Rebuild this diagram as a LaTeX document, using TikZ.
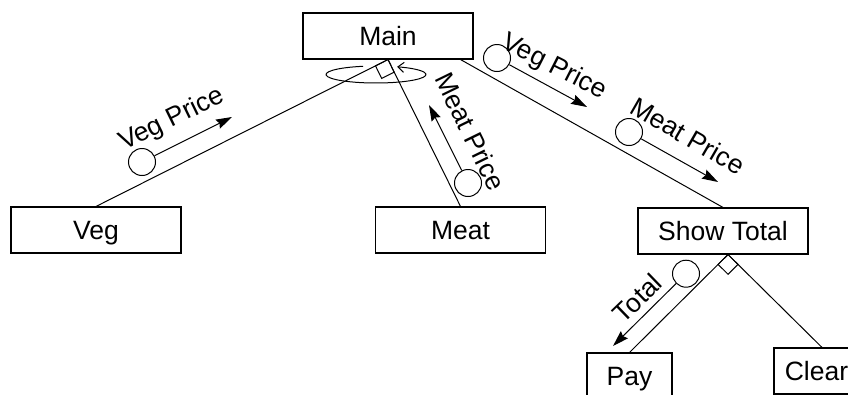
\documentclass[tikz,border=0pt]{standalone}
\usepackage{fontspec}
\setmainfont{Liberation Sans}
\usetikzlibrary{arrows.meta,calc}
\begin{document}
\begin{tikzpicture}[x=1pt,y=-1pt,
  every node/.style={font=\fontsize{26.5pt}{31pt}\selectfont},
  box/.style={draw, line width=1.1pt, minimum width=170pt, minimum height=46pt, inner sep=0pt, text height=19pt, text depth=0pt},
  smallbox/.style={box, minimum width=85pt},
  link/.style={line width=1pt},
  couple/.style={draw, circle, line width=1pt, minimum size=27pt, inner sep=0pt, fill=white},
  flow/.style={line width=1pt, -{Stealth[length=16pt,width=10pt,inset=2pt]}},
  lbl/.style={anchor=base, inner sep=0pt},
  diam/.style={line width=1pt},
  loop/.style={line width=1pt, -{Straight Barb[length=6pt,width=10pt]}}
]
\useasboundingbox (0,0) rectangle (848,394);
\clip (0,0) rectangle (848,394);

% modules
\node[box] (main) at (388,36) {Main};
\node[box] (veg) at (96,230) {Veg};
\node[box] (meat) at (460.5,230) {Meat};
\node[box] (show) at (723,231) {Show Total};
\node[smallbox] (pay) at (629.5,376) {Pay};
\node[smallbox] (clear) at (816.5,371) {Clear};

% attachment points
\coordinate (mainR) at ($(main.south east)+(-13,0)$);
\coordinate (showB) at ($(show.south)+(5,0)$);
\coordinate (clearT) at ($(clear.north)+(5.5,0)$);

% calls
\draw[link] (main.south) -- (veg.north);
\draw[link] (main.south) -- (meat.north);
\draw[link] (mainR) -- (show.north);
\draw[link] (showB) -- (pay.north);
\draw[link] (showB) -- (clearT);

% conditional diamonds
\coordinate (d1) at ($(main.south)!14pt!(veg.north)$);
\coordinate (d2) at ($(main.south)!14pt!(meat.north)$);
\draw[diam] (main.south) -- (d1) -- ($(d1)+(d2)-(main.south)$) -- (d2) -- cycle;
\coordinate (e1) at ($(showB)!14pt!(pay.north)$);
\coordinate (e2) at ($(showB)!14pt!(clearT)$);
\draw[diam] (showB) -- (e1) -- ($(e1)+(e2)-(showB)$) -- (e2) -- cycle;

% loop
\coordinate (loopc) at (376,74.5);
\draw[loop] ($(loopc)+(105:50pt and 8.5pt)$) arc[start angle=105, end angle=425, x radius=50pt, y radius=8.5pt];

% data couples
\node[couple] (c1) at (142,162) {};
\coordinate (t1) at (232,117);
\draw[flow] (c1) -- (t1);
\node[lbl, rotate=26] (l1) at (175,126) {Veg Price};

\node[couple] (c2) at (497,58) {};
\coordinate (t2) at (587,107);
\draw[flow] (c2) -- (t2);
\node[lbl, rotate=-27] (l2) at (551,73) {Veg Price};

\node[couple] (c3) at (629,132) {};
\coordinate (t3) at (718,182);
\draw[flow] (c3) -- (t3);
\node[lbl, rotate=-30] (l3) at (683,144) {Meat Price};

\node[couple] (c4) at (468,183) {};
\coordinate (t4) at (429,105);
\draw[flow] (c4) -- (t4);
\node[lbl, rotate=-64] (l4) at (462,135.5) {Meat Price};

\node[couple] (c5) at (686,273.7) {};
\coordinate (t5) at (613,346);
\draw[flow] (c5) -- (t5);
\node[lbl, rotate=44] (l5) at (644,305) {Total};
\end{tikzpicture}
\end{document}
